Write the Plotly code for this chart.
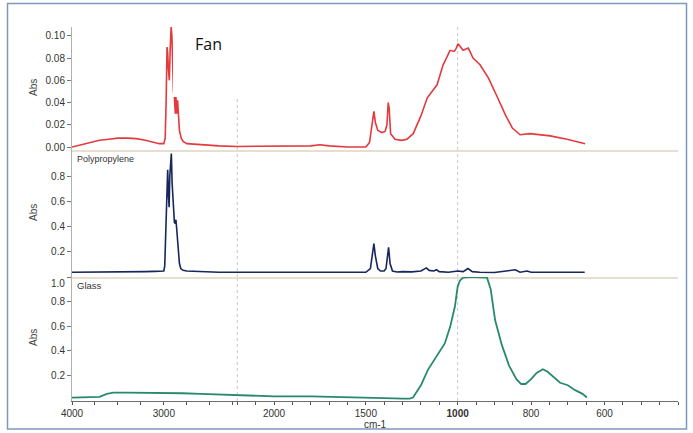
import plotly.graph_objects as go

# ---------------- data (wavenumber cm-1, absorbance) ----------------
fan_wn = [4000, 3900, 3800, 3700, 3600, 3500, 3400, 3300, 3200, 3100, 3050, 3000, 2985, 2975, 2965,
          2958, 2950, 2940, 2930, 2920, 2912, 2905, 2895, 2885, 2875, 2868, 2860, 2850, 2840, 2830,
          2810, 2790, 2750, 2600, 2400, 2200, 2000, 1800, 1750, 1700, 1600, 1500, 1480, 1465, 1456,
          1448, 1435, 1413, 1395, 1385, 1378, 1373, 1365, 1341, 1305, 1276, 1242, 1200, 1166, 1112,
          1079, 1041, 1019, 1010, 999, 992, 985, 971, 958, 939, 916, 892, 870, 851, 830, 803, 748,
          702, 653]
fan_abs = [0.000, 0.002, 0.004, 0.006, 0.007, 0.008, 0.008, 0.0075, 0.006, 0.004, 0.003, 0.003, 0.008,
           0.040, 0.090, 0.085, 0.070, 0.060, 0.090, 0.108, 0.100, 0.070, 0.050, 0.045, 0.030, 0.045,
           0.030, 0.042, 0.025, 0.015, 0.008, 0.005, 0.003, 0.002, 0.001, 0.0005, 0.0005, 0.001, 0.002,
           0.001, 0.000, 0.000, 0.004, 0.020, 0.032, 0.022, 0.015, 0.013, 0.014, 0.020, 0.040, 0.035,
           0.012, 0.007, 0.006, 0.007, 0.012, 0.028, 0.044, 0.056, 0.074, 0.087, 0.086, 0.088, 0.093,
           0.090, 0.087, 0.089, 0.080, 0.074, 0.062, 0.045, 0.029, 0.017, 0.011, 0.012, 0.010, 0.007,
           0.003]

pp_wn = [4000, 3800, 3600, 3400, 3200, 3100, 3000, 2990, 2975, 2965, 2958, 2950, 2942, 2935, 2925,
         2918, 2910, 2900, 2892, 2885, 2875, 2868, 2860, 2850, 2840, 2830, 2815, 2790, 2750, 2600,
         2400, 2200, 2000, 1800, 1720, 1700, 1600, 1500, 1475, 1465, 1456, 1448, 1435, 1420, 1400,
         1390, 1383, 1376, 1368, 1355, 1330, 1300, 1250, 1200, 1170, 1155, 1130, 1115, 1100, 1050,
         1000, 985, 972, 960, 940, 900, 843, 830, 811, 800, 700, 654]
pp_abs = [0.030, 0.030, 0.032, 0.033, 0.035, 0.037, 0.040, 0.080, 0.400, 0.750, 0.850, 0.650, 0.550,
          0.800, 0.920, 0.980, 0.750, 0.600, 0.450, 0.430, 0.420, 0.450, 0.380, 0.300, 0.200, 0.100,
          0.060, 0.045, 0.040, 0.035, 0.030, 0.030, 0.030, 0.030, 0.033, 0.030, 0.028, 0.030, 0.060,
          0.150, 0.260, 0.160, 0.060, 0.040, 0.040, 0.060, 0.150, 0.230, 0.100, 0.040, 0.032, 0.035,
          0.033, 0.040, 0.065, 0.045, 0.040, 0.050, 0.035, 0.030, 0.040, 0.035, 0.060, 0.035, 0.030,
          0.028, 0.050, 0.030, 0.040, 0.030, 0.030, 0.030]

glass_wn = [4000, 3800, 3700, 3620, 3550, 3400, 3000, 2800, 2600, 2400, 2200, 2000, 1800, 1700, 1600,
            1500, 1400, 1300, 1260, 1243, 1200, 1162, 1110, 1070, 1040, 1015, 1000, 994, 985, 970,
            950, 930, 920, 910, 898, 880, 860, 840, 827, 815, 800, 785, 768, 755, 740, 721, 700, 680,
            660, 648]
glass_abs = [0.020, 0.020, 0.025, 0.050, 0.060, 0.060, 0.060, 0.055, 0.050, 0.045, 0.035, 0.030, 0.030,
             0.025, 0.020, 0.020, 0.015, 0.012, 0.012, 0.020, 0.120, 0.245, 0.370, 0.460, 0.600, 0.760,
             0.920, 0.970, 0.995, 1.000, 1.000, 1.000, 0.995, 0.900, 0.650, 0.450, 0.280, 0.170, 0.130,
             0.130, 0.170, 0.220, 0.250, 0.230, 0.190, 0.140, 0.120, 0.080, 0.050, 0.020]

x_tick_vals = [4000, 3000, 2000, 1500, 1000, 800, 600]
x_tick_text = ["4000", "3000", "2000", "1500", "<b>1000</b>", "800", "600"]
scale_breaks = [2200, 1000]          # axis expands x2 below 2200 and x4 below 1000
x_limits = [4000, 400]

top_ticks = [0.00, 0.02, 0.04, 0.06, 0.08, 0.10]
mid_ticks = [0.2, 0.4, 0.6, 0.8]
bot_ticks = [0.2, 0.4, 0.6, 0.8, 1.0]


def to_axis(wn):
    """piecewise-expanded wavenumber scale used by the spectrometer software"""
    b1, b2 = scale_breaks
    if wn >= b1:
        return wn
    if wn >= b2:
        return b1 - 2 * (b1 - wn)
    return b1 - 2 * (b1 - b2) - 4 * (b2 - wn)


def tx(seq):
    return [to_axis(v) for v in seq]


W, H = 693, 433
def px(v): return v / W
def py(v): return 1 - v / H

RED, NAVY, TEAL = "#e4393d", "#17265b", "#278a6f"
FONT = "Liberation Sans, Arial, sans-serif"

fig = go.Figure()
fig.add_trace(go.Scatter(x=tx(fan_wn), y=fan_abs, mode="lines", line=dict(color=RED, width=1.6),
                         xaxis="x", yaxis="y", showlegend=False))
fig.add_trace(go.Scatter(x=tx(pp_wn), y=pp_abs, mode="lines", line=dict(color=NAVY, width=1.6),
                         xaxis="x2", yaxis="y2", showlegend=False))
fig.add_trace(go.Scatter(x=tx(glass_wn), y=glass_abs, mode="lines", line=dict(color=TEAL, width=1.8),
                         xaxis="x3", yaxis="y3", showlegend=False, cliponaxis=False))

xdom = [px(72), px(678)]
xr = [to_axis(x_limits[0]), to_axis(x_limits[1])]
minor_vals = ([to_axis(v) for v in range(4000, 2200, -250)] +
              [to_axis(v) for v in range(2200, 1000, -100)] +
              [to_axis(v) for v in range(1000, 399, -50)])

sep = dict(domain=xdom, range=xr, showline=True, linecolor="#e6dfcf", linewidth=1.5, automargin=False,
           showticklabels=False, ticks="", showgrid=False, zeroline=False, fixedrange=True)
ydef = dict(showline=True, linecolor="#b0b0b0", linewidth=1, ticks="outside", ticklen=4, automargin=False,
            tickcolor="#777", tickfont=dict(family=FONT, size=10, color="#333"),
            showgrid=False, zeroline=False)

fig.update_layout(
    width=W, height=H, margin=dict(l=0, r=0, t=0, b=0, autoexpand=False),
    paper_bgcolor="white", plot_bgcolor="rgba(0,0,0,0)",
    xaxis=dict(sep, anchor="y"),
    xaxis2=dict(sep, anchor="y2"),
    xaxis3=dict(domain=xdom, range=xr, anchor="y3", showline=True, linecolor="#6e6e6e", linewidth=1,
                automargin=False,
                tickmode="array", tickvals=tx(x_tick_vals), ticktext=x_tick_text,
                ticks="outside", ticklen=3, tickcolor="#555",
                minor=dict(tickmode="array", tickvals=minor_vals, ticks="outside", ticklen=3,
                           tickcolor="#555"),
                tickfont=dict(family=FONT, size=10, color="#333"), showgrid=False, zeroline=False,
                title=dict(text="cm-1", font=dict(family=FONT, size=10, color="#333"), standoff=2)),
    yaxis=dict(ydef, domain=[py(150), py(27)], range=[-0.0027, 0.108], anchor="x",
               tickmode="array", tickvals=top_ticks, tickformat=".2f"),
    yaxis2=dict(ydef, domain=[py(277), py(150)], range=[-0.008, 1.008], anchor="x2",
                tickmode="array", tickvals=mid_ticks, tickformat=".1f"),
    yaxis3=dict(ydef, domain=[py(401), py(277)], range=[-0.008, 1.0], anchor="x3",
                tickmode="array", tickvals=bot_ticks,
                ticktext=["0.2", "0.4", "0.6", "0.8", ""]),
)

shapes = []
for xa, ya in [("x", "y"), ("x2", "y2"), ("x3", "y3")]:
    for b in scale_breaks:
        shapes.append(dict(type="line", xref=xa, yref=ya + " domain", x0=to_axis(b), x1=to_axis(b),
                           y0=0, y1=1, line=dict(color="#c8c8c8", width=1, dash="dot"), layer="below"))
# white label box pasted over the top panel
shapes.append(dict(type="rect", xref="paper", yref="paper", x0=px(173), x1=px(300), y0=py(97), y1=py(5),
                   fillcolor="white", line=dict(width=0), layer="above"))
# outer frame
shapes.append(dict(type="rect", xref="paper", yref="paper", x0=px(7.5), x1=px(686.5), y0=py(429), y1=py(3.5),
                   line=dict(color="#7f99bd", width=1.5), fillcolor="rgba(0,0,0,0)"))
fig.update_layout(shapes=shapes)


def note(text, x, y, size, anchor="center", color="#333", family=FONT, angle=0):
    return dict(text=text, x=px(x), y=py(y), xref="paper", yref="paper", showarrow=False,
                xanchor=anchor, yanchor="middle", textangle=angle,
                font=dict(family=family, size=size, color=color))


ann = [
    note("Fan", 208, 44, 16, color="#111", family="Open Sans, sans-serif"),
    note("Polypropylene", 75, 159, 9, anchor="left"),
    note("Glass", 75, 285, 9.5, anchor="left"),
    note("1.0", 67, 283, 10, anchor="right"),
]
for yc in [88, 213, 338]:
    ann.append(note("Abs", 33, yc, 10, color="#444", angle=-90))
fig.update_layout(annotations=ann)

fig.write_html("out.html", config={"displayModeBar": False},
               post_script="document.body.style.margin='0';document.body.style.overflow='hidden';")
